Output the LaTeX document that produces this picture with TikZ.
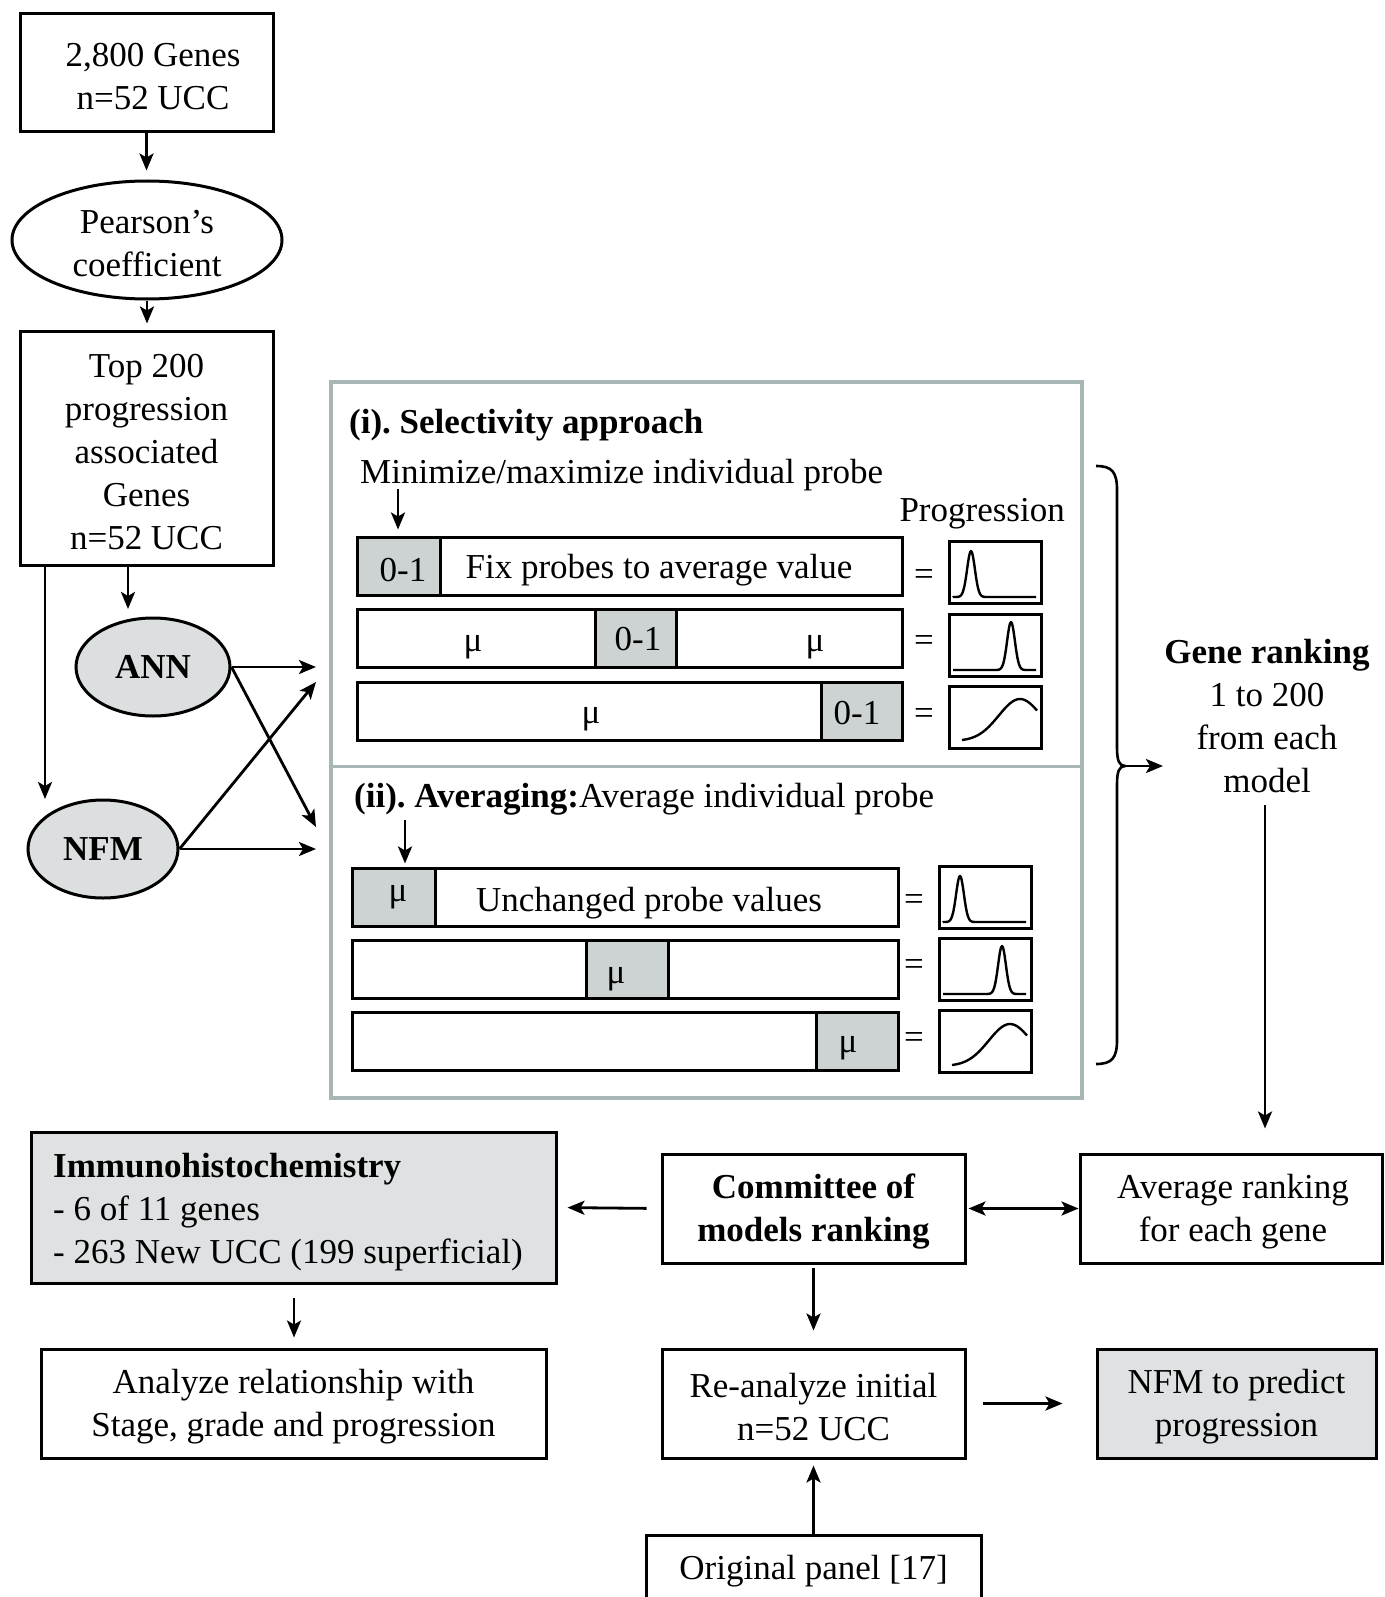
\documentclass[tikz,border=0pt]{standalone}
\usepackage{fontspec}
\setmainfont{Liberation Serif}
\usetikzlibrary{arrows.meta,shapes.geometric}
\newcommand\fsz{\fontsize{35}{43}\selectfont\frenchspacing}
\definecolor{cellgray}{HTML}{CDD2D2}
\definecolor{ellgray}{HTML}{DCDFDF}
\definecolor{boxgray}{HTML}{DEE2E2}
\definecolor{panelc}{HTML}{A9B6B6}
\begin{document}
\begin{tikzpicture}[x=1pt,y=-1pt,
  txt/.style={font=\fsz, text=black, inner sep=0pt},
  box/.style={draw, line width=3pt, align=center, inner sep=0pt, font=\fsz},
  ell/.style={ellipse, draw, line width=3pt, fill=ellgray, inner sep=0pt, font=\fsz, align=center},
  arr/.style={-{Stealth[length=17pt,width=14pt,inset=4pt]}, line width=2.8pt},
  bar/.style={draw, line width=3pt, fill=white, inner sep=0pt, minimum height=58pt, font=\fsz},
  cell/.style={draw, line width=3pt, fill=cellgray, inner sep=0pt, minimum height=58pt},
  cbox/.style={draw, line width=3pt, inner sep=0pt, minimum width=92pt, minimum height=62pt},
  curve/.style={line width=2.4pt, line join=round}
]
\useasboundingbox (0,0) rectangle (1384,1597);
\fill[white] (0,0) rectangle (1384,1597);
\clip (0,0) rectangle (1384,1597);

% left column
\node[box, minimum width=253pt, minimum height=118pt] (b1) at (146.5,73) {};
\node[txt, align=center] (b1t) at (153,77) {2,800 Genes\\n=52 UCC};
\node[ell, minimum width=270pt, minimum height=118pt, fill=white] (pearson) at (147,240) {};
\node[txt, align=center] (pt) at (147,244) {Pearson’s\\coefficient};
\node[box, minimum width=253pt, minimum height=234pt] (top) at (146.5,448) {};
\node[txt, align=center] (topt) at (146.5,452) {Top 200\\progression\\associated\\Genes\\n=52 UCC};
\node[ell, minimum width=154pt, minimum height=98pt, font=\fsz\bfseries] (ann) at (153,667) {ANN};
\node[ell, minimum width=150pt, minimum height=98pt, font=\fsz\bfseries] (nfm) at (103,849) {NFM};

\draw[arr, shorten >=9pt] (b1.south) -- (b1.south |- pearson.north);
\draw[arr, shorten >=6pt] (pearson.south) -- (pearson.south |- top.north);
\coordinate (ta) at (128,609);
\draw[arr] (ta |- top.south) -- (ta);
\coordinate (lb) at (45,799);
\draw[arr] (lb |- top.south) -- (lb);

\coordinate (p1) at (316,667);
\coordinate (p2) at (316,827);
\coordinate (p3) at (316,682);
\coordinate (p4) at (316,849);
\draw[arr] (ann.east) -- (p1);
\draw[arr] (ann.east) -- (p2);
\draw[arr] (nfm.east) -- (p3);
\draw[arr] (nfm.east) -- (p4);

% panel
\node[draw=panelc, line width=4pt, minimum width=751pt, minimum height=716pt, inner sep=0pt] (panel) at (706.5,740) {};
\coordinate (div) at (0,766);
\draw[panelc, line width=3pt] (panel.west |- div) -- (panel.east |- div);

\node[txt, anchor=west, font=\fsz\bfseries] (t1) at (349,425) {(i). Selectivity approach};
\node[txt, anchor=west] (t2) at (360,475) {Minimize/maximize individual probe};
\node[txt, anchor=east] (prog) at (1065,514) {Progression};
\node[txt, anchor=west] (t3) at (354,799) {\textbf{(ii). Averaging:}Average individual probe};

% rows (i)
\node[bar, minimum width=545pt] (bar1) at (629.5,566) {};
\node[cell, minimum width=83pt] (cell1) at (398.5,566) {};
\node[txt] (c1t) at (403,570) {0-1};
\node[txt] (fix) at (659,570) {Fix probes to average value};
\node[bar, minimum width=545pt] (bar2) at (629.5,638.5) {};
\node[cell, minimum width=81pt] (cell2) at (635.5,638.5) {};
\node[txt] (c2t) at (638,639) {0-1};
\node[txt] (mu21) at (473,647) {μ};
\node[txt] (mu22) at (815,647) {μ};
\node[bar, minimum width=545pt] (bar3) at (629.5,711.5) {};
\node[cell, minimum width=81pt] (cell3) at (861.5,711.5) {};
\node[txt] (c3t) at (857,713) {0-1};
\node[txt] (mu31) at (591,719) {μ};

\coordinate (a1) at (398,489);
\draw[arr, shorten >=6pt] (a1) -- (a1 |- cell1.north);

% rows (ii)
\node[bar, minimum width=546pt] (bar4) at (625,897) {};
\node[cell, minimum width=83pt] (cell4) at (393.5,897) {};
\node[txt] (c4t) at (398,897) {μ};
\node[txt] (unch) at (649,903) {Unchanged probe values};
\node[bar, minimum width=546pt] (bar5) at (625,969.5) {};
\node[cell, minimum width=82pt] (cell5) at (627,969.5) {};
\node[txt] (c5t) at (616,979) {μ};
\node[bar, minimum width=546pt] (bar6) at (625,1041.5) {};
\node[cell, minimum width=82pt] (cell6) at (857,1041.5) {};
\node[txt] (c6t) at (848,1048) {μ};

\coordinate (a2) at (405,820);
\draw[arr, shorten >=3pt] (a2) -- (a2 |- cell4.north);

% equals signs
\node[txt] (eq1) at (924,577) {=};
\node[txt] (eq2) at (924,643) {=};
\node[txt] (eq3) at (924,716) {=};
\node[txt] (eq4) at (914,902) {=};
\node[txt] (eq5) at (914,967) {=};
\node[txt] (eq6) at (914,1040) {=};

% curve boxes
\node[cbox] (c1) at (995,572) {};
\node[cbox] (c2) at (995,645) {};
\node[cbox] (c3) at (995,717.5) {};
\node[cbox] (c4) at (985,897.5) {};
\node[cbox] (c5) at (985,969.5) {};
\node[cbox] (c6) at (985,1041.5) {};

\draw[curve] (953,597) -- plot[smooth,domain=953:991,samples=39] (\x,{597-46*exp(-((\x-971)/5.5)*((\x-971)/5.5))}) -- (1036,597);
\draw[curve] (953,670) -- plot[smooth,domain=991:1031,samples=41] (\x,{670-48*exp(-((\x-1011)/5.5)*((\x-1011)/5.5))}) -- (1036,670);
\draw[curve] plot[smooth,domain=962:1037,samples=40] (\x,{741-42*exp(-((\x-1020)/30)*((\x-1020)/30))});
\draw[curve] (943,922) -- plot[smooth,domain=943:980,samples=38] (\x,{922-46*exp(-((\x-960)/5.5)*((\x-960)/5.5))}) -- (1026,922);
\draw[curve] (943,994) -- plot[smooth,domain=982:1022,samples=41] (\x,{994-48*exp(-((\x-1002)/5.5)*((\x-1002)/5.5))}) -- (1026,994);
\draw[curve] plot[smooth,domain=952:1027,samples=40] (\x,{1066-42*exp(-((\x-1010)/30)*((\x-1010)/30))});

% brace
\draw[line width=2.6pt] (1096,466) .. controls (1112,466) and (1117,472) .. (1117,490) -- (1117,748) .. controls (1117,760) and (1119,766) .. (1125,766) .. controls (1119,766) and (1117,772) .. (1117,784) -- (1117,1040) .. controls (1117,1058) and (1112,1064) .. (1096,1064);
\coordinate (btip) at (1125,766);
\coordinate (bend) at (1163,766);
\draw[arr] (btip) -- (bend);

\node[txt, align=center] (gene) at (1267,716) {\textbf{Gene ranking}\\1 to 200\\from each\\model};

% bottom
\node[box, minimum width=302pt, minimum height=109pt] (avg) at (1231,1208.5) {};
\node[txt, align=center] (avgt) at (1233,1212) {Average ranking\\for each gene};
\node[box, minimum width=303pt, minimum height=109pt] (comm) at (813.5,1208.5) {};
\node[txt, align=center, font=\fsz\bfseries] (commt) at (813.5,1212) {Committee of\\models ranking};
\node[box, minimum width=525pt, minimum height=151pt, fill=boxgray] (immu) at (293.5,1207.5) {};
\node[txt, anchor=west, align=left] (immut) at (53,1212) {\textbf{Immunohistochemistry}\\- 6 of 11 genes\\- 263 New UCC (199 superficial)};
\node[box, minimum width=505pt, minimum height=109pt] (anal) at (293.5,1403.5) {};
\node[txt, align=center] (analt) at (293.5,1407) {Analyze relationship with\\Stage, grade and progression};
\node[box, minimum width=303pt, minimum height=109pt] (rean) at (813.5,1403.5) {};
\node[txt, align=center] (reant) at (813.5,1407) {Re-analyze initial\\n=52 UCC};
\node[box, minimum width=279pt, minimum height=109pt, fill=boxgray] (nfmp) at (1236.5,1403.5) {};
\node[txt, align=center] (nfmpt) at (1236.5,1407) {NFM to predict\\progression};
\node[box, minimum width=335pt, minimum height=76pt] (orig) at (813.5,1573) {};
\node[txt] (origt) at (813.5,1571) {Original panel [17]};

\coordinate (gs) at (1265,805);
\draw[arr, shorten >=24pt] (gs) -- (gs |- avg.north);
\draw[{Stealth[length=17pt,width=14pt,inset=4pt]}-{Stealth[length=17pt,width=14pt,inset=4pt]}, line width=2.8pt, shorten <=2pt] (comm.east) -- (avg.west);
\draw[arr, shorten <=14pt, shorten >=10pt] (comm.west) -- (immu.east);
\coordinate (ia) at (294,1283);
\draw[arr, shorten <=15pt, shorten >=10pt] (ia) -- (ia |- anal.north);
\draw[arr, shorten <=3pt, shorten >=17pt] (comm.south) -- (rean.north);
\draw[arr, shorten <=16pt, shorten >=33pt] (rean.east) -- (rean.east -| nfmp.west);
\draw[arr, shorten >=6pt] (orig.north) -- (rean.south);
\end{tikzpicture}
\end{document}
